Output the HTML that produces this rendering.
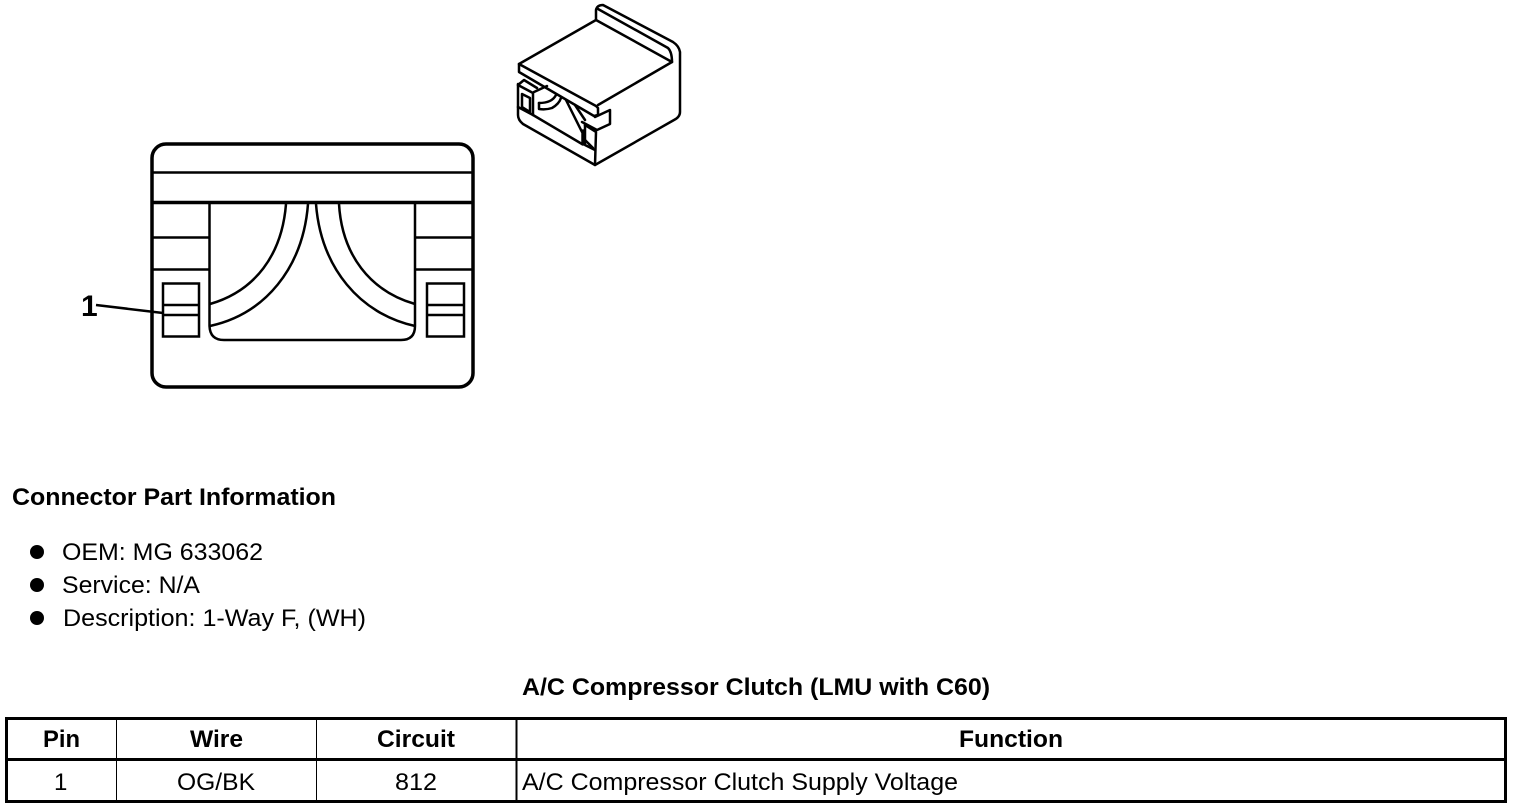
<!DOCTYPE html>
<html lang="en">
<head>
<meta charset="utf-8">
<title>A/C Compressor Clutch Connector</title>
<style>
html,body{margin:0;padding:0;background:#fff;width:1520px;height:810px;overflow:hidden}
svg{display:block}
text{font-family:"Liberation Sans",sans-serif;fill:#000;font-size:24px}
.b{font-weight:bold}
</style>
</head>
<body>
<svg width="1520" height="810" viewBox="0 0 1520 810" xmlns="http://www.w3.org/2000/svg">
<g fill="none" stroke="#000" stroke-width="2.500" stroke-linejoin="round" stroke-linecap="round">
  <!-- top face -->
  <path d="M519,64 L596,20 L672,62 L598,105"/>
  <path d="M519,64 L596,106 L598,108 L598,115 L594,116 L519,72 Z"/>
  <!-- rear ridge and body -->
  <path d="M596,20 L596,10 Q597,5 603,5 L673,42 Q679,46 680,52 L680,112 Q680,117 674,120 L595,165 L523,124 Q518,120 518,115 L518,84"/>
  <path d="M598,9 L668,48 Q672,52 672,62"/>
  <!-- left block -->
  <path d="M518,85 L524,80 L537,88 M518,85 L533,93 L533,115 L518,107"/>
  <path d="M522,94 L530,98 L530,112 L522,107 Z"/>
  <path d="M534,92 L547,86"/>
  <path d="M533,115 L582,144"/>
  <!-- wire -->
  <path d="M539,103 Q552,103 556,95"/>
  <path d="M539,103 L539,109 Q546,110 552,108 Q559,104 561,98"/>
  <!-- inner diagonals -->
  <path d="M566,100 L582,132 M575,105 L585,120"/>
  <!-- tab -->
  <path d="M582,122 L597,130 L610,124 L610,110 L595,117"/>
  <!-- right window -->
  <path d="M585,125 L596,132 L595,165"/>
  <path d="M585,125 L585,145 L595,150"/>
  <path d="M585,140 L593,148"/>
  <path d="M583,131 L583,144" stroke-width="3.500"/>
</g>
<g fill="none" stroke="#000">
  <rect x="152" y="144" width="321" height="243" rx="14" stroke-width="3.5"/>
  <path d="M152,172.500 H473" stroke-width="2.5"/>
  <path d="M152,202.500 H473" stroke-width="3.5"/>
  <path d="M153,237.500 H209 M153,269.500 H209 M415,237.500 H472 M415,269.500 H472" stroke-width="2.5"/>
  <path d="M209.500,203 V326 Q210,340 224,340 H401 Q415,340 415,326 V203" stroke-width="2.5"/>
  <path d="M286,204 C282,255 255,291 210,304" stroke-width="2.5"/>
  <path d="M308,204 C303,268 265,314 210,326" stroke-width="2.5"/>
  <path d="M316,204 C321,268 360,314 415,326" stroke-width="2.5"/>
  <path d="M339,204 C342,255 370,291 415,304" stroke-width="2.5"/>
  <rect x="163" y="283.500" width="36" height="53" stroke-width="2.5"/>
  <path d="M163,305 H199 M163,315 H199" stroke-width="2.5"/>
  <rect x="427" y="283.500" width="37" height="53" stroke-width="2.5"/>
  <path d="M427,305 H464 M427,315 H464" stroke-width="2.5"/>
  <path d="M96,305 L163,313" stroke-width="2.5"/>
</g>
<text x="81" y="316" class="b" style="font-size:30px">1</text>

<text x="12" y="505" class="b" textLength="324" lengthAdjust="spacingAndGlyphs">Connector Part Information</text>
<circle cx="37" cy="552" r="7"/>
<circle cx="37" cy="585" r="7"/>
<circle cx="37" cy="618" r="7"/>
<text x="62" y="560" textLength="201" lengthAdjust="spacingAndGlyphs">OEM: MG 633062</text>
<text x="62" y="593" textLength="138" lengthAdjust="spacingAndGlyphs">Service: N/A</text>
<text x="63" y="626" textLength="303" lengthAdjust="spacingAndGlyphs">Description: 1-Way F, (WH)</text>
<text x="522" y="695" class="b" textLength="468" lengthAdjust="spacingAndGlyphs">A/C Compressor Clutch (LMU with C60)</text>

<g fill="none" stroke="#000" shape-rendering="crispEdges">
  <rect x="6.500" y="718.500" width="1499" height="83" stroke-width="3"/>
  <path d="M5,759.500 H1507" stroke-width="3"/>
  <path d="M116.500,718 V802 M316.500,718 V802" stroke-width="1"/>
  <path d="M516.500,718 V802" stroke-width="2"/>
</g>
<text x="43" y="747" class="b" textLength="37" lengthAdjust="spacingAndGlyphs">Pin</text>
<text x="190" y="747" class="b" textLength="53" lengthAdjust="spacingAndGlyphs">Wire</text>
<text x="377" y="747" class="b" textLength="78" lengthAdjust="spacingAndGlyphs">Circuit</text>
<text x="959" y="747" class="b" textLength="104" lengthAdjust="spacingAndGlyphs">Function</text>
<text x="54" y="790">1</text>
<text x="177" y="790" textLength="78" lengthAdjust="spacingAndGlyphs">OG/BK</text>
<text x="395" y="790" textLength="42" lengthAdjust="spacingAndGlyphs">812</text>
<text x="522" y="790" textLength="436" lengthAdjust="spacingAndGlyphs">A/C Compressor Clutch Supply Voltage</text>
</svg>
</body>
</html>
